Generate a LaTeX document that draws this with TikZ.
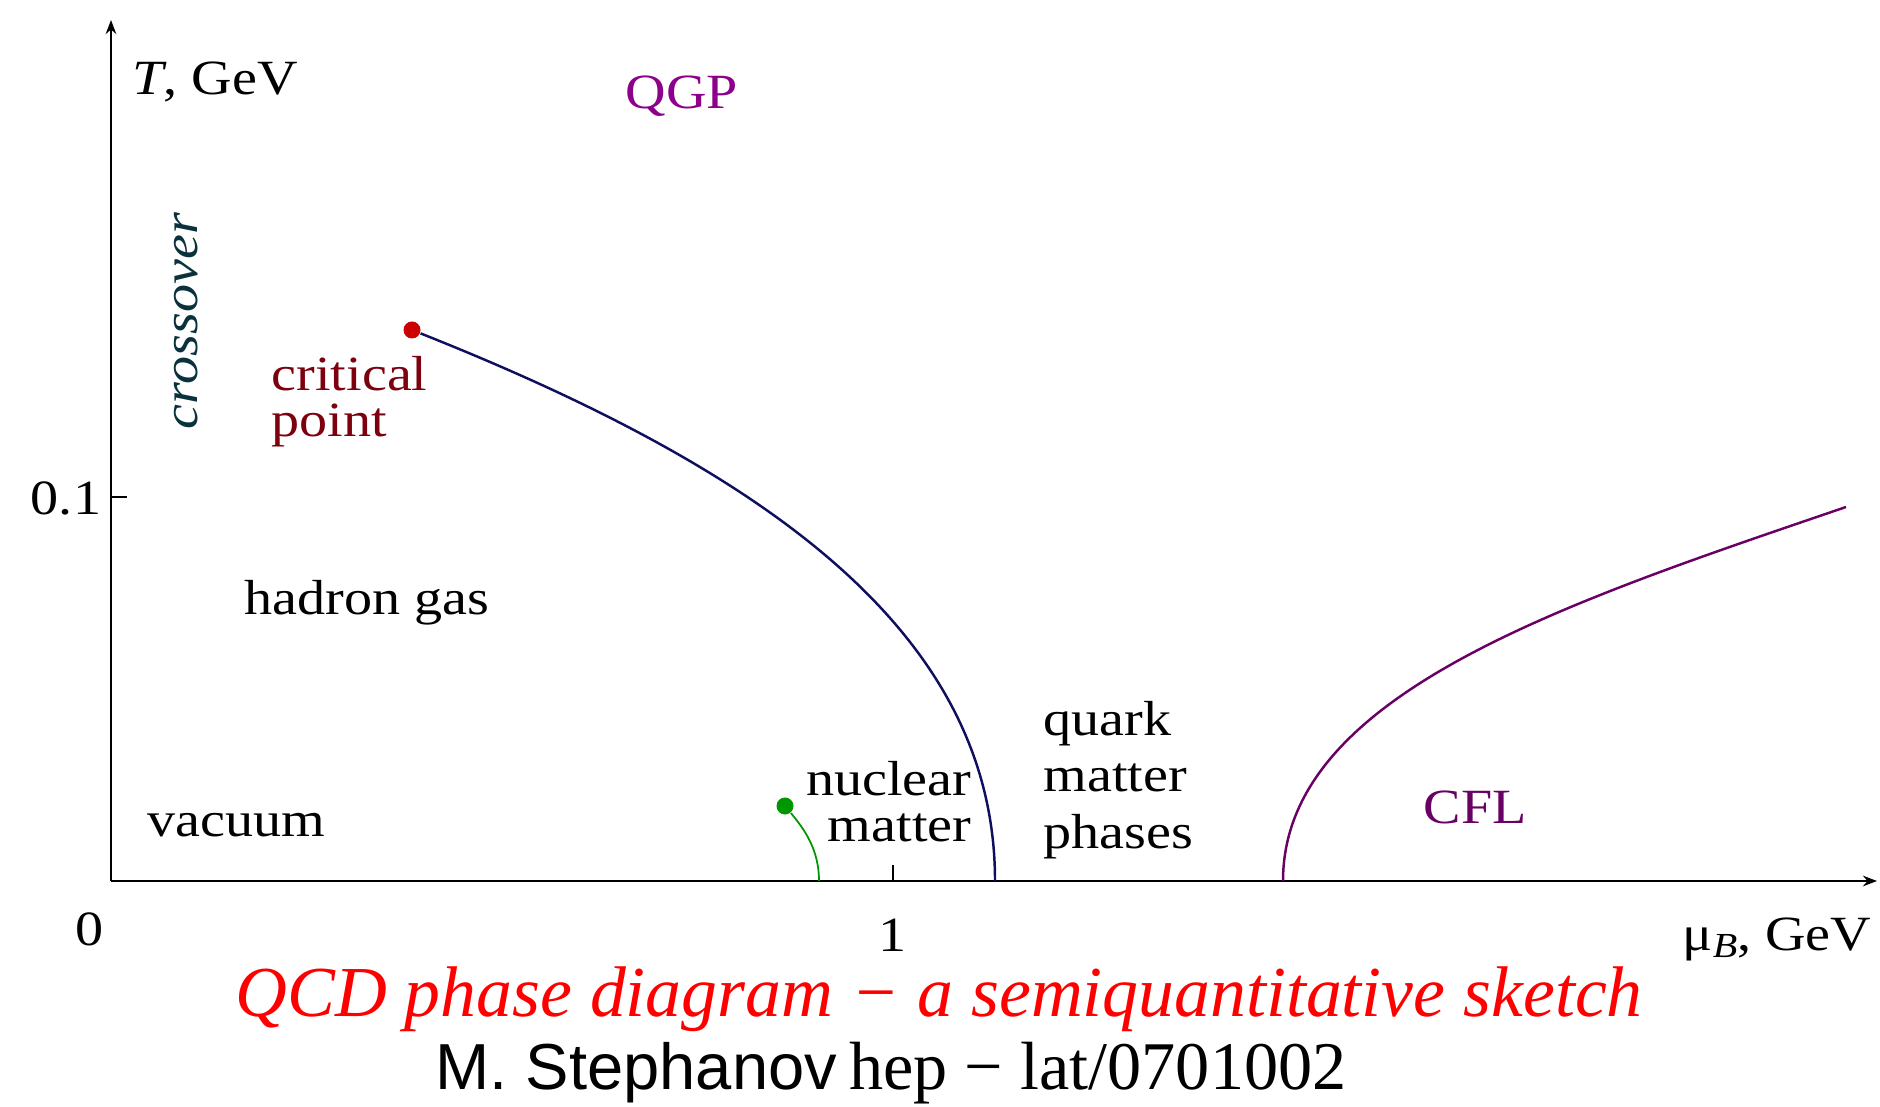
\documentclass[tikz,border=0pt]{standalone}
\usepackage{fontspec}
\setmainfont{Liberation Serif}
\newfontfamily\plotfont{Liberation Serif}[FakeStretch=1.14]
\newfontfamily\sansfnt{Liberation Sans}
\usetikzlibrary{arrows.meta, positioning}
\definecolor{qgpc}{RGB}{140,0,140}
\definecolor{cflc}{RGB}{105,0,100}
\definecolor{critc}{RGB}{125,0,15}
\definecolor{crossc}{RGB}{10,50,60}
\definecolor{linec}{RGB}{15,15,95}
\definecolor{nmc}{RGB}{0,150,0}
\tikzset{
  lbl/.style = {font=\plotfont\fontsize{14}{13}\selectfont, inner sep=0pt, align=left},
  eixo/.style = {draw=black, line width=0.8pt, -{Stealth[length=4pt, width=3pt]}},
  lp/.style = {draw=black, line width=0.7pt},
  dot/.style = {circle, inner sep=0pt, minimum size=0.17cm},
  lcrit/.style = {draw=linec, line width=0.7pt},
  lcfl/.style = {draw=cflc, line width=0.7pt},
  lnm/.style = {draw=nmc, line width=0.5pt}
}

\begin{document}
\begin{tikzpicture}[x=0.01cm, y=-0.01cm]
  \useasboundingbox (0,0) rectangle (1880,1107);
  % axes
  \coordinate (o) at (111,881);
  \coordinate (ytop) at (111,20);
  \coordinate (xend) at (1877,881);
  \draw [eixo, line width=0.6pt] (o) -- (ytop);
  \draw [eixo] (o) -- (xend);
  \coordinate (t01) at (111,497);
  \coordinate (t1) at (893,881);
  \draw [lp] (t01) -- ++(16,0);
  \draw [lp] (t1) -- ++(0,-16);
  \node [lbl] (n01) at (66,498) {0.1};
  \node [lbl] (n0) at (90,929) {0};
  \node [lbl] (n1) at (893,935) {1};
  \node [lbl, anchor=west] (tlab) at (132,82) {\textit{T}, GeV};
  \node [lbl] (mulab) at (1777,939) {μ\raisebox{-0.35ex}{\fontsize{10}{10}\selectfont\itshape B}, GeV};
  % phases
  \node [lbl, text=qgpc] (qgp) at (682,96) {QGP};
  \node [lbl, text=crossc, rotate=90] (cross) at (186,321) {\itshape crossover};
  \node [dot, fill=red!80!black] (cp) at (412,330) {};
  \node [lbl, text=critc, anchor=west] (cptxt) at (271,402) {critical\\point};
  \node [lbl] (hg) at (367,603) {hadron gas};
  \node [lbl] (vac) at (236,825) {vacuum};
  \node [dot, fill=nmc] (nm) at (785,806) {};
  \node [lbl, align=right, anchor=east] (nmtxt) at (972,802) {nuclear\\matter};
  \node [lbl, anchor=west, font=\plotfont\fontsize{14}{16}\selectfont] (qmp) at (1043,780) {quark\\matter\\phases};
  \node [lbl, text=cflc] (cfl) at (1475,807) {CFL};
  % lines
  \coordinate (cpend) at (995,881);
  \draw [lcrit] (cp) .. controls (762,469) and (995,631) .. (cpend);
  \coordinate (nmend) at (819,881);
  \draw [lnm] (nm) .. controls (805,830) and (819,850) .. (nmend);
  \coordinate (cfl0) at (1283,881);
  \coordinate (cfl1) at (1846,507);
  \draw [lcfl] (cfl0) .. controls (1283,695) and (1562,604) .. (cfl1);
  % caption
  \node [font=\itshape\fontsize{20.4}{24}\selectfont, text=red] (cap) at (939,999)
    {QCD phase diagram − a semiquantitative sketch};
  \node (ref) at (891,1073) {{\sansfnt\fontsize{18.5}{22}\selectfont M. Stephanov}\hspace{0.35em}%
    {\fontsize{19.4}{22}\selectfont hep − lat/0701002}};
\end{tikzpicture}
\end{document}
